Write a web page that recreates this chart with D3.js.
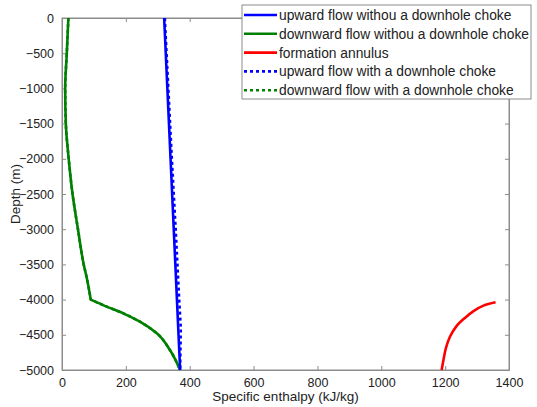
<!DOCTYPE html>
<html>
<head>
<meta charset="utf-8">
<script src="https://cdn.jsdelivr.net/npm/d3@7"></script>
<style>
  html, body { margin: 0; padding: 0; background: #fff; }
  svg { display: block; font-family: "Liberation Sans", Arial, sans-serif; }
</style>
</head>
<body>
<svg id="chart" width="537" height="407"></svg>
<script>
// Specific enthalpy (kJ/kg) vs depth (m)
const xTicks = [0, 200, 400, 600, 800, 1000, 1200, 1400];
const yTicks = [0, -500, -1000, -1500, -2000, -2500, -3000, -3500, -4000, -4500, -5000];

// upward flow without a downhole choke: [enthalpy, depth]
const upNoChoke = [[320, 0], [330, -1000], [340, -2000], [350, -3000], [360, -4000], [370, -5000]];
// upward flow with a downhole choke
const upChoke = [[322, 0], [333, -1000], [344, -2000], [356, -3000], [367, -4000], [372, -4400], [370, -5000]];
// downward flow without a downhole choke: upper branch and lower branch below the kink
const downUpper = [[20, 0], [15, -500], [10, -1000], [12, -1500], [21, -2000], [33, -2500],
  [50, -3000], [68, -3500], [78, -3700], [90, -4000]];
const downLower = [[90, -4000], [140, -4100], [192, -4195], [244, -4314],
  [297, -4479], [338, -4716], [370, -5000]];
// formation annulus
const formation = [[1189, -5000], [1195, -4850], [1203, -4680], [1215, -4527], [1235, -4380],
  [1262, -4260], [1290, -4160], [1320, -4085], [1358, -4038]];

const legendItems = [
  { label: "upward flow withou a downhole choke", color: "#0000ff", dash: null },
  { label: "downward flow withou a downhole choke", color: "#008000", dash: null },
  { label: "formation annulus", color: "#ff0000", dash: null },
  { label: "upward flow with a downhole choke", color: "#0000ff", dash: "3,3" },
  { label: "downward flow with a downhole choke", color: "#008000", dash: "3,3" }
];

const svg = d3.select("#chart");
const plotL = 62, plotR = 509, plotT = 18, plotB = 370;
const x = d3.scaleLinear().domain([0, 1400]).range([plotL, plotR]);
const y = d3.scaleLinear().domain([-5000, 0]).range([plotB, plotT]);
const axisColor = "#8c8c8c";
const textColor = "#222";
const fmt = d3.format("d");

// frame
svg.append("rect").attr("x", plotL).attr("y", plotT).attr("width", plotR - plotL).attr("height", plotB - plotT)
  .attr("fill", "#fff").attr("stroke", axisColor).attr("stroke-width", 1);

// axes with inward ticks
const xAxis = svg.append("g").attr("transform", `translate(0,${plotB})`)
  .call(d3.axisBottom(x).tickValues(xTicks).tickFormat(fmt).tickSizeInner(-4).tickSizeOuter(0).tickPadding(8));
const xAxisTop = svg.append("g").attr("transform", `translate(0,${plotT})`)
  .call(d3.axisTop(x).tickValues(xTicks).tickSizeInner(-4).tickSizeOuter(0).tickFormat(""));
const yAxis = svg.append("g").attr("transform", `translate(${plotL},0)`)
  .call(d3.axisLeft(y).tickValues(yTicks).tickFormat(fmt).tickSizeInner(-4).tickSizeOuter(0).tickPadding(8));
const yAxisRight = svg.append("g").attr("transform", `translate(${plotR},0)`)
  .call(d3.axisRight(y).tickValues(yTicks).tickSizeInner(-4).tickSizeOuter(0).tickFormat(""));

[xAxis, xAxisTop, yAxis, yAxisRight].forEach(g => {
  g.select(".domain").attr("stroke", axisColor);
  g.selectAll(".tick line").attr("stroke", axisColor);
  g.selectAll(".tick text").attr("fill", textColor).attr("font-size", 12.5)
    .attr("font-family", "Liberation Sans, Arial, sans-serif");
});

// curves
const lineLin = d3.line().x(d => x(d[0])).y(d => y(d[1]));
const lineSmooth = d3.line().x(d => x(d[0])).y(d => y(d[1])).curve(d3.curveMonotoneY);
const lineArc = d3.line().x(d => x(d[0])).y(d => y(d[1])).curve(d3.curveCatmullRom.alpha(0.5));
const downPath = () => lineSmooth(downUpper) + lineSmooth(downLower).replace(/^M[^CLZ]*/, "");

function drawPath(d, color, dash) {
  const p = svg.append("path").attr("d", d)
    .attr("fill", "none").attr("stroke", color).attr("stroke-width", 2.6)
    .attr("stroke-linejoin", "round");
  if (dash) p.attr("stroke-dasharray", dash);
}
drawPath(downPath(), "#008000", null);
// downward flow with a downhole choke follows the same profile
drawPath(downPath(), "#008000", "3,3");
drawPath(lineLin(upNoChoke), "#0000ff", null);
drawPath(lineLin(upChoke), "#0000ff", "3,3");
drawPath(lineArc(formation), "#ff0000", null);

// axis titles
svg.append("text").attr("x", (plotL + plotR) / 2).attr("y", 401).attr("text-anchor", "middle")
  .attr("font-size", 13.5).attr("fill", textColor).text("Specific enthalpy (kJ/kg)");
svg.append("text").attr("transform", `translate(20,${(plotT + plotB) / 2}) rotate(-90)`)
  .attr("text-anchor", "middle").attr("font-size", 13.5).attr("fill", textColor).text("Depth (m)");

// legend
const lg = svg.append("g");
lg.append("rect").attr("x", 242).attr("y", 5).attr("width", 289).attr("height", 94)
  .attr("fill", "#fff").attr("stroke", axisColor).attr("stroke-width", 1);
legendItems.forEach((it, i) => {
  const cy = 15 + i * 18.8;
  const l = lg.append("line").attr("x1", 244).attr("x2", 277).attr("y1", cy).attr("y2", cy)
    .attr("stroke", it.color).attr("stroke-width", 2.6);
  if (it.dash) l.attr("stroke-dasharray", it.dash);
  lg.append("text").attr("x", 279).attr("y", cy + 5).attr("font-size", 13.8)
    .attr("fill", textColor).text(it.label);
});
</script>
</body>
</html>
